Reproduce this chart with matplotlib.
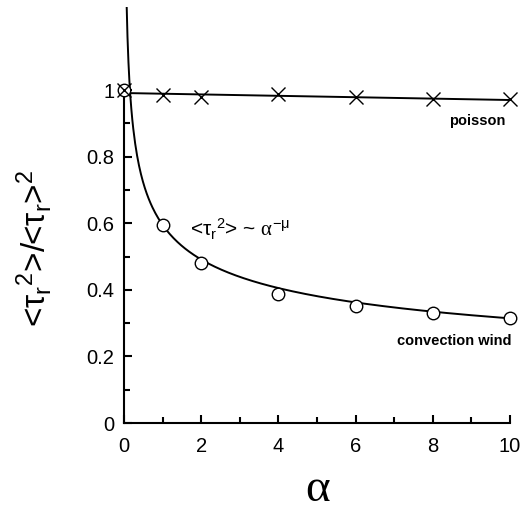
import numpy as np
import matplotlib
matplotlib.use("Agg")
import matplotlib.pyplot as plt
from matplotlib.ticker import MultipleLocator

plt.rcParams['font.family'] = ['Liberation Sans', 'DejaVu Sans']
plt.rcParams['mathtext.fontset'] = 'custom'
plt.rcParams['mathtext.rm'] = 'Liberation Sans'
plt.rcParams['mathtext.it'] = 'Liberation Sans'
plt.rcParams['mathtext.sf'] = 'Liberation Serif'

# data
alpha = [0, 1, 2, 4, 6, 8, 10]
convection = [1.0, 0.595, 0.48, 0.387, 0.351, 0.33, 0.315]
poisson = [1.0, 0.985, 0.979, 0.988, 0.979, 0.973, 0.973]

# fitted curves
fit_c, fit_mu = 0.595, 0.277
lin_a, lin_b = 0.991, -0.0021

fig = plt.figure(figsize=(5.30, 5.13), dpi=100)
ax = fig.add_axes([0.234, 0.1754, 0.728, 0.8114])

xf = np.linspace(0.065, 10, 400)
ax.plot(xf, fit_c * xf ** (-fit_mu), color='black', lw=1.4, zorder=2)
xl = np.array([0, 10])
ax.plot(xl, lin_a + lin_b * xl, color='black', lw=1.4, zorder=2)

ax.plot(alpha, convection, 'o', ms=9, mfc='white', mec='black', mew=1.0,
        clip_on=False, zorder=3)
ax.plot(alpha, poisson, 'x', ms=10, color='black', mew=1.0,
        clip_on=False, zorder=4)

ax.set_xlim(0, 10)
ax.set_ylim(0, 1.25)
ax.spines['top'].set_visible(False)
ax.spines['right'].set_visible(False)
ax.spines['left'].set_bounds(0, 1)
for s in ('left', 'bottom'):
    ax.spines[s].set_linewidth(1.5)

ax.xaxis.set_major_locator(MultipleLocator(2))
ax.xaxis.set_minor_locator(MultipleLocator(1))
ax.set_yticks([0, 0.2, 0.4, 0.6, 0.8, 1.0])
ax.set_yticklabels(['0', '0.2', '0.4', '0.6', '0.8', '1'])
ax.set_yticks([0.1, 0.3, 0.5, 0.7, 0.9], minor=True)
ax.tick_params(which='both', direction='in', labelsize=14.5, width=1.5)
ax.tick_params(which='major', length=6)
ax.tick_params(which='minor', length=4)
ax.tick_params(axis='x', pad=10)
ax.tick_params(axis='y', pad=7)

fig.text(0.6, 0.045, 'α', fontsize=34, family='Liberation Serif',
         ha='center', va='center')
fig.text(0.064, 0.515, '<τ$_r{}^2$>/<τ$_r$>$^2$', fontsize=24,
         rotation=90, ha='center', va='center')

ax.text(9.15, 0.895, 'poisson', fontsize=10.5, fontweight='bold', ha='center')
ax.text(8.55, 0.235, 'convection wind', fontsize=10.5, fontweight='bold',
        ha='center')
ax.text(1.7, 0.56, '<τ$_r{}^2$> ~ $\\mathsf{\\alpha}^{-μ}$', fontsize=15)

fig.savefig('out.png', dpi=100)
